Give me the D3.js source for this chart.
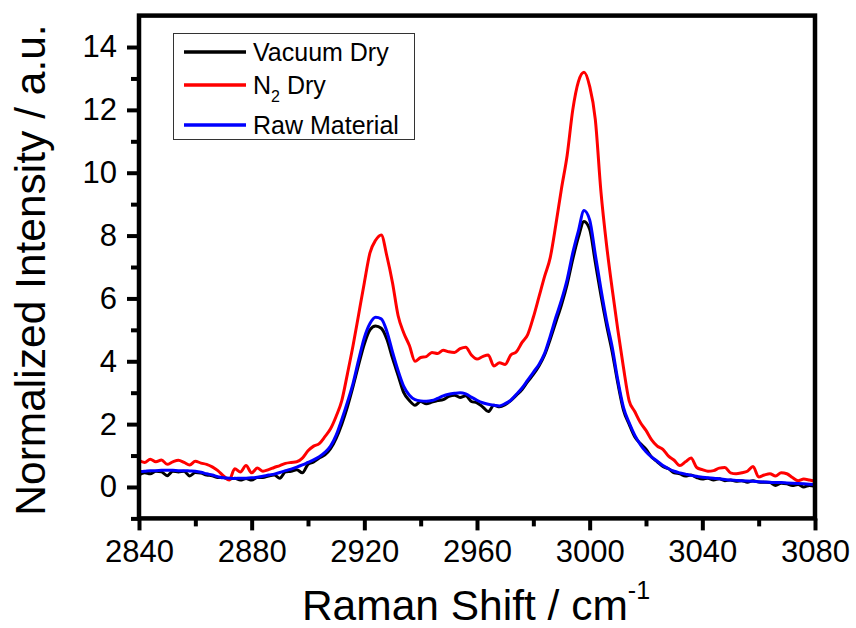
<!DOCTYPE html>
<html>
<head>
<meta charset="utf-8">
<script src="https://cdn.jsdelivr.net/npm/d3@7"></script>
<style>
  html, body { margin: 0; padding: 0; background: #fff; }
  svg { display: block; font-family: "Liberation Sans", Arial, sans-serif; }
</style>
</head>
<body>
<svg id="chart" width="856" height="628"></svg>
<script>
// Raman shift (cm-1), one point every 2 cm-1
const shift = d3.range(2840, 3081, 2);

const vacuumDry = [
  0.38, 0.45, 0.42, 0.50, 0.48, 0.36, 0.50, 0.48, 0.50, 0.35,
  0.46, 0.44, 0.38, 0.36, 0.30, 0.30, 0.25, 0.28, 0.22, 0.27,
  0.22, 0.30, 0.30, 0.35, 0.38, 0.28, 0.48, 0.50, 0.55, 0.45,
  0.72, 0.80, 0.92, 1.02, 1.22, 1.55, 2.00, 2.55, 3.20, 3.90,
  4.55, 5.00, 5.12, 5.05, 4.70, 4.10, 3.55, 3.00, 2.75, 2.60,
  2.72, 2.65, 2.70, 2.75, 2.78, 2.88, 2.92, 2.85, 2.90, 2.72,
  2.68, 2.55, 2.40, 2.60, 2.55, 2.62, 2.75, 2.92, 3.10, 3.35,
  3.58, 3.85, 4.20, 4.70, 5.25, 5.80, 6.45, 7.25, 7.95, 8.45,
  8.20, 7.15, 6.10, 5.15, 4.30, 3.30, 2.45, 2.00, 1.60, 1.38,
  1.20, 0.95, 0.80, 0.65, 0.58, 0.45, 0.42, 0.35, 0.38, 0.30,
  0.25, 0.28, 0.22, 0.26, 0.20, 0.22, 0.18, 0.20, 0.15, 0.20,
  0.16, 0.15, 0.14, 0.05, 0.12, 0.10, 0.05, 0.08, 0.00, 0.05,
  0.02
];

const n2Dry = [
  0.85, 0.78, 0.88, 0.80, 0.86, 0.72, 0.80, 0.85, 0.78, 0.70,
  0.82, 0.76, 0.72, 0.64, 0.52, 0.35, 0.22, 0.58, 0.48, 0.68,
  0.45, 0.60, 0.50, 0.55, 0.62, 0.68, 0.75, 0.78, 0.80, 0.92,
  1.15, 1.30, 1.38, 1.60, 1.85, 2.25, 2.75, 3.60, 4.50, 5.50,
  6.50, 7.45, 7.85, 8.02, 7.35, 6.50, 5.45, 4.90, 4.50, 4.00,
  4.12, 4.15, 4.28, 4.25, 4.35, 4.30, 4.28, 4.40, 4.45, 4.20,
  4.07, 4.15, 4.20, 3.85, 3.95, 3.90, 4.20, 4.30, 4.60, 4.85,
  5.40, 6.05, 6.70, 7.30, 8.35, 9.50, 10.55, 12.00, 12.90, 13.20,
  12.75, 11.70, 9.40, 7.70, 6.30, 5.00, 3.80, 2.75, 2.40, 2.05,
  1.80, 1.50, 1.30, 1.20, 0.98, 0.85, 0.68, 0.80, 0.92, 0.62,
  0.55, 0.50, 0.52, 0.60, 0.62, 0.45, 0.42, 0.45, 0.50, 0.65,
  0.32, 0.38, 0.42, 0.35, 0.45, 0.42, 0.30, 0.20, 0.25, 0.22,
  0.18
];

const rawMaterial = [
  0.49, 0.50, 0.52, 0.52, 0.53, 0.53, 0.53, 0.52, 0.52, 0.51,
  0.50, 0.47, 0.42, 0.38, 0.33, 0.29, 0.28, 0.27, 0.28, 0.28,
  0.29, 0.31, 0.34, 0.38, 0.41, 0.46, 0.52, 0.57, 0.63, 0.70,
  0.78, 0.86, 0.96, 1.10, 1.30, 1.65, 2.15, 2.70, 3.30, 4.05,
  4.75, 5.20, 5.40, 5.35, 4.95, 4.30, 3.70, 3.20, 2.92, 2.78,
  2.74, 2.73, 2.75, 2.82, 2.90, 2.95, 2.98, 3.00, 2.96, 2.86,
  2.76, 2.68, 2.63, 2.60, 2.58, 2.65, 2.76, 2.95, 3.15, 3.40,
  3.65, 3.90, 4.25, 4.80, 5.40, 5.95, 6.60, 7.45, 8.15, 8.80,
  8.50, 7.40, 6.30, 5.30, 4.45, 3.40, 2.53, 2.05, 1.65, 1.35,
  1.12, 0.95, 0.82, 0.68, 0.58, 0.50, 0.45, 0.41, 0.37, 0.34,
  0.31, 0.29, 0.28, 0.26, 0.24, 0.22, 0.21, 0.20, 0.19, 0.18,
  0.17, 0.16, 0.15, 0.14, 0.14, 0.13, 0.12, 0.11, 0.10, 0.09,
  0.08
];

const seriesNames  = ['Vacuum Dry', 'N2 Dry', 'Raw Material'];
const seriesColors = ['#000000', '#ff0000', '#0000ff'];
const seriesValues = [vacuumDry, n2Dry, rawMaterial];

const xTicks = [2840, 2880, 2920, 2960, 3000, 3040, 3080];
const yTicks = [0, 2, 4, 6, 8, 10, 12, 14];

const margin = { top: 15.6, right: 41, bottom: 109.6, left: 139 };
const W = 856, H = 628;
const iw = W - margin.left - margin.right;
const ih = H - margin.top - margin.bottom;

const svg = d3.select('#chart');
const g = svg.append('g').attr('transform', 'translate(' + margin.left + ',' + margin.top + ')');

const x = d3.scaleLinear().domain([2840, 3080]).range([0, iw]);
const y = d3.scaleLinear().domain([-1, 15]).range([ih, 0]);

// data lines
const line = d3.line()
  .curve(d3.curveMonotoneX)
  .x(function (d) { return x(d[0]); })
  .y(function (d) { return y(d[1]); });

seriesValues.forEach(function (vals, i) {
  g.append('path')
    .datum(shift.map(function (s, j) { return [s, vals[j]]; }))
    .attr('d', line)
    .attr('fill', 'none')
    .attr('stroke', seriesColors[i])
    .attr('stroke-width', 3)
    .attr('stroke-linejoin', 'round');
});

// minor ticks
g.append('g')
  .attr('transform', 'translate(0,' + ih + ')')
  .call(d3.axisBottom(x).tickValues(d3.range(2860, 3080, 40)).tickSize(8).tickFormat(''))
  .call(function (a) { a.select('.domain').remove(); a.selectAll('line').attr('stroke-width', 4); });

g.append('g')
  .call(d3.axisLeft(y).tickValues(d3.range(-1, 15, 2)).tickSize(8).tickFormat(''))
  .call(function (a) { a.select('.domain').remove(); a.selectAll('line').attr('stroke-width', 4); });

// major ticks with labels
const xAxis = g.append('g')
  .attr('transform', 'translate(0,' + ih + ')')
  .call(d3.axisBottom(x).tickValues(xTicks).tickSize(12).tickPadding(10).tickFormat(d3.format('d')));
xAxis.select('.domain').remove();
xAxis.selectAll('line').attr('stroke-width', 4);
xAxis.selectAll('text').attr('font-size', 31).attr('fill', '#000')
  .attr('font-family', '"Liberation Sans", Arial, sans-serif');

const yAxis = g.append('g')
  .call(d3.axisLeft(y).tickValues(yTicks).tickSize(12).tickPadding(10));
yAxis.select('.domain').remove();
yAxis.selectAll('line').attr('stroke-width', 4);
yAxis.selectAll('text').attr('font-size', 31).attr('fill', '#000')
  .attr('font-family', '"Liberation Sans", Arial, sans-serif');

// frame
g.append('rect')
  .attr('width', iw).attr('height', ih)
  .attr('fill', 'none')
  .attr('stroke', '#000')
  .attr('stroke-width', 4.5);

// legend
const legend = svg.append('g');
legend.append('rect')
  .attr('x', 173.5).attr('y', 33.5).attr('width', 241).attr('height', 106)
  .attr('fill', '#fff').attr('stroke', '#333').attr('stroke-width', 1);

const legendY = [52, 85, 125];
seriesNames.forEach(function (name, i) {
  legend.append('line')
    .attr('x1', 184).attr('x2', 246)
    .attr('y1', legendY[i]).attr('y2', legendY[i])
    .attr('stroke', seriesColors[i]).attr('stroke-width', 3.5);
  const t = legend.append('text')
    .attr('x', 253).attr('y', legendY[i] + 9)
    .attr('font-size', 25).attr('fill', '#000');
  if (name === 'N2 Dry') {
    t.append('tspan').text('N');
    t.append('tspan').attr('font-size', 16).attr('dy', 8).text('2');
    t.append('tspan').attr('dy', -8).text(' Dry');
  } else {
    t.text(name);
  }
});

// axis titles
const xt = svg.append('text')
  .attr('x', 476).attr('y', 620)
  .attr('text-anchor', 'middle')
  .attr('font-size', 42.5).attr('fill', '#000');
xt.append('tspan').text('Raman Shift / cm');
xt.append('tspan').attr('font-size', 25).attr('dy', -21).text('-1');

svg.append('text')
  .attr('transform', 'translate(45,270) rotate(-90)')
  .attr('text-anchor', 'middle')
  .attr('font-size', 42.5).attr('fill', '#000')
  .text('Normalized Intensity / a.u.');
</script>
</body>
</html>
